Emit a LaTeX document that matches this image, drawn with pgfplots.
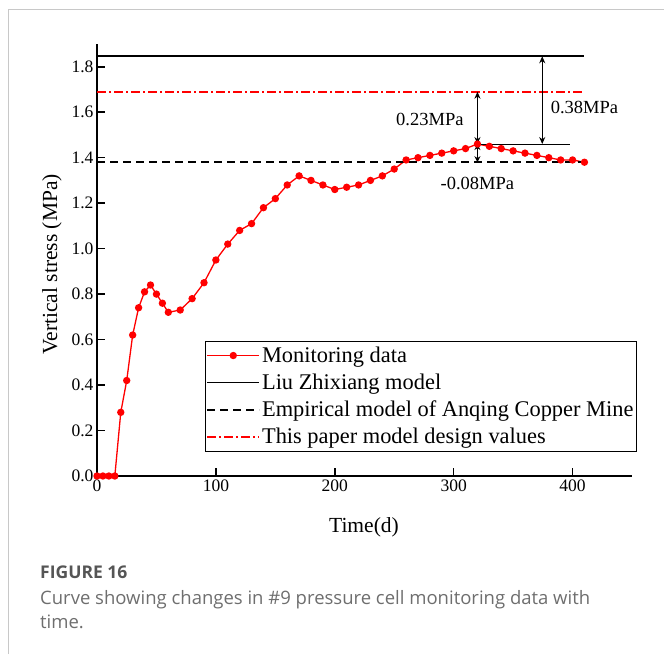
\documentclass[border=0pt]{standalone}
\usepackage{pgfplots}
\pgfplotsset{compat=1.18}
\usepackage{fontspec}
\setmainfont{Liberation Serif}
\newfontfamily\capfont{Open Sans}
\usetikzlibrary{arrows.meta}
\definecolor{capgray}{RGB}{85,85,85}
\definecolor{captext}{RGB}{110,110,110}
\definecolor{framegray}{RGB}{200,200,200}
\pgfplotstableread{
x y
0 0
5 0
10 0
15 0
20 0.28
25 0.42
30 0.62
35 0.74
40 0.81
45 0.84
50 0.80
55 0.76
60 0.72
70 0.73
80 0.78
90 0.85
100 0.95
110 1.02
120 1.08
130 1.11
140 1.18
150 1.22
160 1.28
170 1.32
180 1.30
190 1.28
200 1.26
210 1.27
220 1.28
230 1.30
240 1.32
250 1.35
260 1.39
270 1.40
280 1.41
290 1.42
300 1.43
310 1.44
320 1.46
330 1.45
340 1.44
350 1.43
360 1.42
370 1.41
380 1.40
390 1.39
400 1.39
410 1.38
}\monitor
\begin{document}
\begin{tikzpicture}
\useasboundingbox (0,0) rectangle (664pt,654pt);
\draw[framegray, line width=1pt] (8.5pt,0pt) -- (8.5pt,644pt) -- (664pt,644pt);
\node[anchor=base west, inner sep=0pt, text=capgray, font=\capfont\bfseries\fontsize{17.5}{20}\selectfont] at (40pt,76pt) {FIGURE 16};
\node[anchor=base west, inner sep=0pt, text=captext, font=\capfont\fontsize{18.5}{20}\selectfont] at (40pt,50pt) {Curve showing changes in \#9 pressure cell monitoring data with};
\node[anchor=base west, inner sep=0pt, text=captext, font=\capfont\fontsize{18.5}{20}\selectfont] at (40pt,26pt) {time.};
\begin{axis}[
  at={(97pt,178pt)}, anchor=south west,
  scale only axis, width=535pt, height=432pt,
  xmin=0, xmax=450, ymin=0, ymax=1.9,
  axis x line=bottom, axis y line=left,
  axis line style={line width=1.6pt, -},
  xtick={0,100,200,300,400},
  ytick={0,0.2,0.4,0.6,0.8,1.0,1.2,1.4,1.6,1.8},
  yticklabel style={/pgf/number format/.cd, fixed, fixed zerofill, precision=1},
  tick align=inside, major tick length=8pt,
  tick style={line width=1.6pt, black},
  ticklabel style={font=\fontsize{17.5}{20}\selectfont},
  /pgf/number format/assume math mode=true,
  xlabel={Time(d)}, ylabel={Vertical stress (MPa)},
  label style={font=\fontsize{21.5}{24}\selectfont},
  xlabel style={at={(axis description cs:0.499,-0.118)}, anchor=center},
  ylabel style={at={(axis description cs:-0.084,0.49)}, anchor=center},
  clip=false,
  legend cell align=left,
  legend style={at={(rel axis cs:0.202,0.056)}, anchor=south west,
    font=\fontsize{22.4}{26}\selectfont, draw=black, line width=0.8pt,
    inner xsep=1pt, inner ysep=4pt, row sep=6pt},
  legend image code/.code={\draw[mark repeat=2,mark phase=2,#1] plot coordinates {(0pt,0pt)(26pt,0pt)(52pt,0pt)};},
]
\addplot[red, line width=1.3pt, mark=*, mark size=3pt, mark options={solid}] table[x=x,y=y] {\monitor};
\addlegendentry{Monitoring data}
\addplot[black, line width=1.6pt] coordinates {(0,1.846) (410,1.846)};
\addlegendentry{Liu Zhixiang model}
\addplot[black, line width=1.6pt, dash pattern=on 8pt off 5pt] coordinates {(0,1.38) (410,1.38)};
\addlegendentry{Empirical model of Anqing Copper Mine}
\addplot[red, line width=1.6pt, dash pattern=on 9pt off 3pt on 2pt off 3pt] coordinates {(0,1.69) (410,1.69)};
\addlegendentry{This paper model design values}
\draw[line width=1pt] (axis cs:320,1.46) -- (axis cs:398,1.46);
\draw[line width=1pt, {Stealth[length=7pt,width=6pt]}-{Stealth[length=7pt,width=6pt]}] (axis cs:320,1.69) -- (axis cs:320,1.46);
\draw[line width=1pt, {Stealth[length=6pt,width=6pt]}-{Stealth[length=6pt,width=6pt]}] (axis cs:320,1.46) -- (axis cs:320,1.38);
\draw[line width=1pt, {Stealth[length=7pt,width=6pt]}-{Stealth[length=7pt,width=6pt]}] (axis cs:374.5,1.846) -- (axis cs:374.5,1.46);
\node[font=\fontsize{18.5}{20}\selectfont] at (axis cs:280,1.57) {0.23MPa};
\node[font=\fontsize{18.5}{20}\selectfont] at (axis cs:410,1.62) {0.38MPa};
\node[font=\fontsize{18.5}{20}\selectfont] at (axis cs:320,1.285) {-0.08MPa};
\end{axis}
\end{tikzpicture}
\end{document}
